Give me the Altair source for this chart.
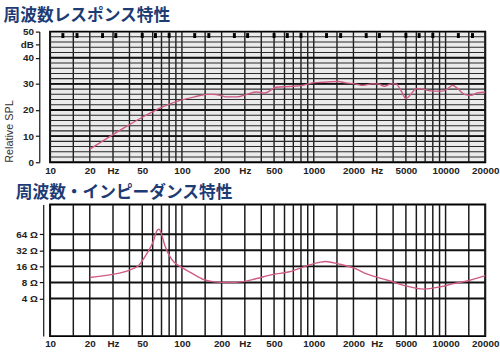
import altair as alt
import pandas as pd

# ---------------- data ----------------
spl_freq = [20, 30, 40, 53, 70, 93, 124, 156, 175, 196, 220, 262, 311, 369, 425, 519, 654, 824,
            978, 1160, 1540, 1734, 2060, 2370, 2740, 3070, 3440, 3860, 4200, 4580, 5000, 5460,
            5950, 6680, 7300, 8200, 9460, 10350, 11300, 12400, 13900, 15600, 17300, 20000]
spl_db = [5.0, 10.6, 14.4, 17.9, 21.0, 23.4, 25.0, 26.0, 26.0, 25.6, 25.0, 25.0, 26.0, 26.9, 26.5,
          28.7, 29.0, 29.4, 30.4, 30.6, 30.9, 30.4, 30.0, 29.4, 30.0, 30.0, 29.1, 30.0, 30.0, 27.5,
          24.4, 26.0, 28.1, 28.1, 27.5, 27.2, 27.2, 28.1, 29.4, 28.1, 26.0, 25.6, 26.5, 26.9]

imp_freq = [20, 29.7, 39.5, 47, 54, 60.8, 64.3, 67, 70, 74.3, 83.3, 98.8, 117, 147, 175, 220, 293,
            369, 492, 654, 870, 1095, 1230, 1540, 2000, 2580, 3630, 5000, 6800, 9060, 11500,
            15300, 20000]
imp_ohm = [9.9, 11.3, 13.5, 16.7, 27.4, 48, 73, 80, 64, 39, 22, 15.5, 12.2, 9.0, 8.2, 8.0, 8.3,
           9.5, 11.3, 12.7, 16.2, 19.0, 19.8, 17.8, 15.0, 11.3, 8.8, 6.9, 6.0, 6.6, 7.6, 8.8, 10.7]

grid_freqs = [10, 15, 20, 30, 40, 50, 60, 70, 80, 90,
              100, 150, 200, 300, 400, 500, 600, 700, 800, 900,
              1000, 1500, 2000, 3000, 4000, 5000, 6000, 7000, 8000, 9000,
              10000, 15000, 20000]
marker_freqs = [12.5, 16, 25, 31.5, 50, 63, 80, 125, 160, 250, 315, 500, 630, 800,
                1250, 1600, 2500, 3150, 5000, 6300, 8000, 12500, 16000]
spl_grid = list(range(2, 50, 2))
spl_major = [10, 20, 30, 40]
imp_grid = [4, 8, 16, 32, 64]

x_label_values = [10, 20, 30, 50, 100, 200, 300, 500, 1000, 2000, 3000, 5000, 10000, 20000]
spl_tick_values = [0, 10, 20, 30, 40, 45, 50]
imp_tick_values = [4, 8, 16, 32, 64]

title_top = "周波数レスポンス特性"
title_bottom = "周波数・インピーダンス特性"

# ---------------- styling ----------------
W, H1, H2 = 443, 133, 134
LINE_COLOR = "#cf5a86"
TITLE_COLOR = "#1d3b74"
LABEL_FONT = "Liberation Sans"

xscale = alt.Scale(type="log", domain=[10, 20000], nice=False)
x_label_expr = ("(datum.value==30||datum.value==300||datum.value==3000) ? 'Hz' : "
                "format(datum.value, 'd')")
x_axis = alt.Axis(values=x_label_values, labelExpr=x_label_expr, grid=False, ticks=False,
                  domain=False, title=None, labelFont=LABEL_FONT, labelFontSize=10,
                  labelFontWeight="bold", labelColor="#222", labelPadding=3,
                  labelFlush=False, labelOverlap=False)

# ---------- top chart ----------
spl_df = pd.DataFrame({"f": spl_freq, "db": spl_db})
yscale_top = alt.Scale(domain=[0, 50], nice=False, zero=False)
y_axis_top = alt.Axis(values=spl_tick_values, grid=False, offset=11,
                      labelExpr="datum.value==45 ? 'dB' : datum.label",
                      domain=True, domainColor="#111", domainWidth=1.2,
                      tickColor="#111", tickSize=4, tickWidth=1.2,
                      labelFont=LABEL_FONT, labelFontSize=10, labelColor="#222",
                      labelFontWeight="bold", labelPadding=2,
                      title="Relative SPL", titleFont=LABEL_FONT, titleFontSize=11,
                      titleFontWeight="normal", titleColor="#333", titlePadding=6,
                      titleAnchor="start")

spl_line = alt.Chart(spl_df).mark_line(
    color=LINE_COLOR, strokeWidth=1.4, interpolate="monotone").encode(
    x=alt.X("f:Q", scale=xscale, axis=x_axis),
    y=alt.Y("db:Q", scale=yscale_top, axis=y_axis_top))
vgrid_top = alt.Chart(pd.DataFrame({"f": grid_freqs})).mark_rule(
    color="#1a1a1a", strokeWidth=1.4).encode(x=alt.X("f:Q", scale=xscale, axis=x_axis))
hgrid_top = alt.Chart(pd.DataFrame({"v": spl_grid})).mark_rule(
    color="#2a2a2a", strokeWidth=1.1).encode(y=alt.Y("v:Q", scale=yscale_top, axis=y_axis_top))
hmajor_top = alt.Chart(pd.DataFrame({"v": spl_major})).mark_rule(
    color="#111", strokeWidth=2).encode(y=alt.Y("v:Q", scale=yscale_top, axis=y_axis_top))
markers = alt.Chart(pd.DataFrame({"f": marker_freqs})).mark_tick(
    color="#000", orient="vertical", thickness=3, size=5, opacity=1).encode(
    x=alt.X("f:Q", scale=xscale, axis=x_axis), y=alt.value(4))

top = alt.layer(vgrid_top, hgrid_top, hmajor_top, markers, spl_line).properties(
    width=W, height=H1,
    view=alt.ViewBackground(fill="#ebebeb", stroke="#000", strokeWidth=2),
    title=alt.TitleParams(title_top, anchor="start", frame="bounds", font="Noto Sans CJK JP",
                          fontSize=17, fontWeight="bold", color=TITLE_COLOR, offset=2))

# ---------- bottom chart ----------
imp_df = pd.DataFrame({"f": imp_freq, "ohm": imp_ohm})
yscale_bot = alt.Scale(type="log", domain=[0.79, 231], nice=False)
y_axis_bot = alt.Axis(values=imp_tick_values, grid=False, offset=7,
                      labelExpr="datum.value + ' Ω'",
                      domain=True, domainColor="#111", domainWidth=1.2,
                      tickColor="#111", tickSize=4, tickWidth=1.2,
                      labelFont=LABEL_FONT, labelFontSize=10, labelColor="#222",
                      labelFontWeight="bold", labelPadding=2, title=None)

imp_line = alt.Chart(imp_df).mark_line(
    color=LINE_COLOR, strokeWidth=1.4, interpolate="monotone").encode(
    x=alt.X("f:Q", scale=xscale, axis=x_axis),
    y=alt.Y("ohm:Q", scale=yscale_bot, axis=y_axis_bot))
vgrid_bot = alt.Chart(pd.DataFrame({"f": grid_freqs})).mark_rule(
    color="#1a1a1a", strokeWidth=1.5).encode(x=alt.X("f:Q", scale=xscale, axis=x_axis))
hgrid_bot = alt.Chart(pd.DataFrame({"v": imp_grid})).mark_rule(
    color="#111", strokeWidth=2).encode(y=alt.Y("v:Q", scale=yscale_bot, axis=y_axis_bot))

bottom = alt.layer(vgrid_bot, hgrid_bot, imp_line).properties(
    width=W, height=H2,
    view=alt.ViewBackground(fill="#ffffff", stroke="#000", strokeWidth=2),
    title=alt.TitleParams(title_bottom, anchor="start", frame="bounds", font="Noto Sans CJK JP",
                          fontSize=17, fontWeight="bold", color=TITLE_COLOR, offset=2))

chart = alt.vconcat(top, bottom, spacing=7).properties(
    padding={"left": 2, "top": 3, "right": 0, "bottom": 0},
    background="#ffffff")

chart.save("out.html", embed_options={"renderer": "svg", "actions": False})
